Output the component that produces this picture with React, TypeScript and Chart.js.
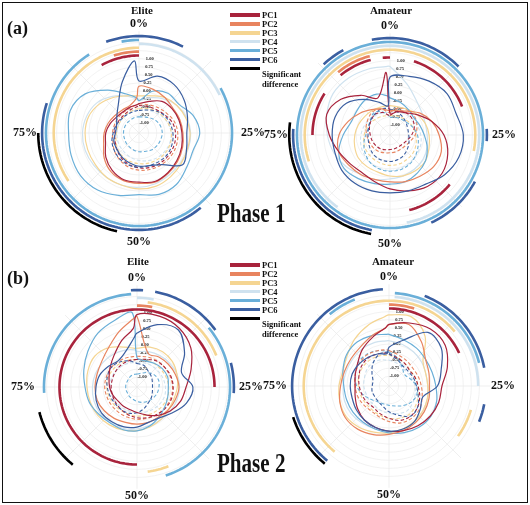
import React, { useEffect, useRef } from 'react';
import { Chart, registerables } from 'chart.js';

Chart.register(...registerables);

// ---------- shared axis data ----------
const PCT_STEP = 0.5; // one radar label per 0.5 % of the cycle
const N_LABELS = 200;
const PERCENT_LABELS = ['0%', '25%', '50%', '75%'];
const CURVE_PCTS = [0, 5, 10, 15, 20, 25, 30, 35, 40, 45, 50, 55, 60, 65, 70, 75, 80, 85, 90, 95, 99];
const TICK_VALUES = [-1, -0.75, -0.5, -0.25, 0, 0.25, 0.5, 0.75, 1];
const EXTRA_GRID = [1.25, 1.5];
const R_MIN = -1.3;
const R_MAX = 1.85;

const SERIES_NAMES = ['PC1', 'PC2', 'PC3', 'PC4', 'PC5', 'PC6'];
const SERIES_COLORS = ['#A8233C', '#E8845F', '#F5D592', '#CFE2EF', '#6AAFD8', '#3A5EA0'];
const SIG_NAME = 'Significant difference';
const SIG_COLOR = '#000000';
// radial level of each significance ring (PC1..PC6, then significant difference)
const ARC_LEVELS = [1.1, 1.22, 1.34, 1.46, 1.58, 1.7, 1.82];

// ---------- Phase 1 / Elite ----------
const P1E_SOLID_PC1 = [-0.39, -0.27, -0.09, -0.03, 0, 0.03, 0.09, 0.15, 0.22, 0.28, 0.22, 0.22, 0.12, -0.03, -0.21, -0.27, -0.36, -0.45, -0.48, -0.45, -0.42];
const P1E_SOLID_PC2 = [0.15, 0.12, 0.06, 0.0, 0.03, 0.06, 0.12, 0.18, 0.24, 0.3, 0.26, 0.25, 0.18, 0.03, -0.15, -0.22, -0.3, -0.38, -0.42, -0.4, -0.2];
const P1E_SOLID_PC3 = [-0.15, -0.09, 0.06, 0.15, 0.22, 0.28, 0.28, 0.31, 0.37, 0.43, 0.43, 0.4, 0.4, 0.37, 0.37, 0.37, 0.34, 0.22, 0.06, -0.09, -0.15];
const P1E_SOLID_PC4 = [-0.3, -0.15, 0.0, 0.15, 0.25, 0.3, 0.3, 0.28, 0.3, 0.35, 0.38, 0.4, 0.4, 0.42, 0.45, 0.45, 0.4, 0.3, 0.1, -0.1, -0.25];
const P1E_SOLID_PC5 = [-0.3, 0.06, 0.22, 0.22, 0.46, 0.58, 0.46, 0.52, 0.67, 0.7, 0.61, 0.73, 0.88, 0.94, 0.91, 0.88, 0.94, 0.76, 0.34, -0.03, -0.21];
const P1E_SOLID_PC6 = [0.31, 0.55, 0.55, 0.43, 0.28, 0.18, 0.25, 0.37, -0.09, -0.24, -0.27, -0.33, -0.39, -0.45, -0.48, -0.57, -0.57, -0.45, -0.21, 0.37, 0.94];
const P1E_DASH_PC1 = [-0.45, -0.44, -0.4, -0.33, -0.22, -0.17, -0.15, -0.15, -0.16, -0.18, -0.22, -0.28, -0.36, -0.45, -0.52, -0.55, -0.56, -0.57, -0.57, -0.53, -0.48];
const P1E_DASH_PC2 = [-0.4, -0.38, -0.32, -0.25, -0.15, -0.1, -0.08, -0.08, -0.1, -0.12, -0.15, -0.2, -0.28, -0.36, -0.45, -0.48, -0.5, -0.5, -0.5, -0.47, -0.42];
const P1E_DASH_PC3 = [-0.55, -0.5, -0.45, -0.4, -0.35, -0.3, -0.28, -0.28, -0.3, -0.32, -0.35, -0.38, -0.42, -0.48, -0.55, -0.6, -0.62, -0.62, -0.6, -0.58, -0.55];
const P1E_DASH_PC4 = [-0.6, -0.55, -0.5, -0.42, -0.35, -0.3, -0.3, -0.32, -0.35, -0.4, -0.45, -0.5, -0.55, -0.58, -0.6, -0.62, -0.62, -0.62, -0.62, -0.6, -0.6];
const P1E_DASH_PC5 = [-0.8, -0.78, -0.72, -0.65, -0.6, -0.58, -0.6, -0.62, -0.65, -0.7, -0.72, -0.75, -0.78, -0.8, -0.82, -0.82, -0.82, -0.82, -0.82, -0.8, -0.8];
const P1E_DASH_PC6 = [-0.6, -0.55, -0.45, -0.35, -0.3, -0.25, -0.22, -0.2, -0.22, -0.24, -0.24, -0.26, -0.3, -0.36, -0.42, -0.5, -0.55, -0.6, -0.62, -0.62, -0.6];
const P1E_ARC_PC1 = [[92, 100]];
const P1E_ARC_PC2 = [[95, 100]];
const P1E_ARC_PC3 = [[65.5, 100]];
const P1E_ARC_PC4 = [[0, 18]];
const P1E_ARC_PC5 = [[17, 91], [97, 100]];
const P1E_ARC_PC6 = [[94.5, 7.8], [39, 80]];
const P1E_ARC_SIG = [[53.5, 75]];

// ---------- Phase 1 / Amateur ----------
const P1A_SOLID_PC1 = [-0.63, -0.54, -0.45, -0.24, 0.06, 0.37, 0.58, 0.7, 0.67, 0.52, 0.37, 0.22, 0.15, 0.22, 0.37, 0.58, 0.76, 0.58, 0.22, -0.09, 0.64];
const P1A_SOLID_PC2 = [-0.54, -0.51, -0.39, -0.15, 0.06, 0.22, 0.37, 0.37, 0.28, 0.22, 0.15, 0.15, 0.22, 0.28, 0.37, 0.28, 0.06, -0.15, -0.33, -0.45, -0.54];
const P1A_SOLID_PC3 = [-0.39, -0.39, -0.33, -0.24, -0.15, -0.09, -0.03, 0.06, 0.06, 0.03, -0.03, -0.09, -0.09, -0.09, -0.15, -0.21, -0.27, -0.33, -0.36, -0.39, -0.39];
const P1A_SOLID_PC4 = [0.82, 0.37, 0.06, -0.09, -0.15, -0.15, -0.09, -0.03, 0, 0.03, 0.06, 0.15, 0.22, 0.37, 0.52, 0.64, 0.76, 0.88, 0.88, 0.85, 0.82];
const P1A_SOLID_PC5 = [-0.15, -0.24, -0.33, -0.39, -0.33, -0.24, -0.09, 0.06, 0.15, 0.22, 0.22, 0.28, 0.37, 0.46, 0.37, 0.15, -0.03, -0.03, 0.03, 0.03, -0.09];
const P1A_SOLID_PC6 = [0.49, 0.61, 0.76, 0.88, 0.85, 0.97, 0.94, 0.79, 0.58, 0.52, 0.49, 0.52, 0.55, 0.55, 0.49, 0.49, 0.49, 0.37, 0.06, -0.24, -0.39];
const P1A_DASH_PC1 = [-0.69, -0.51, -0.45, -0.45, -0.51, -0.63, -0.75, -0.82, -0.85, -0.85, -0.85, -0.82, -0.78, -0.75, -0.72, -0.69, -0.63, -0.57, -0.51, -0.57, -0.69];
const P1A_DASH_PC2 = [-0.6, -0.42, -0.35, -0.35, -0.42, -0.52, -0.65, -0.72, -0.75, -0.75, -0.75, -0.72, -0.68, -0.65, -0.62, -0.58, -0.52, -0.46, -0.4, -0.46, -0.6];
const P1A_DASH_PC3 = [-0.7, -0.68, -0.65, -0.6, -0.55, -0.5, -0.45, -0.4, -0.38, -0.36, -0.36, -0.38, -0.4, -0.42, -0.45, -0.5, -0.55, -0.6, -0.65, -0.68, -0.7];
const P1A_DASH_PC4 = [-0.6, -0.55, -0.5, -0.45, -0.4, -0.35, -0.3, -0.28, -0.25, -0.22, -0.2, -0.22, -0.25, -0.3, -0.35, -0.4, -0.45, -0.5, -0.55, -0.58, -0.6];
const P1A_DASH_PC5 = [-0.75, -0.72, -0.7, -0.65, -0.55, -0.45, -0.38, -0.3, -0.22, -0.18, -0.18, -0.2, -0.25, -0.35, -0.45, -0.55, -0.6, -0.55, -0.45, -0.55, -0.7];
const P1A_DASH_PC6 = [-0.5, -0.55, -0.62, -0.68, -0.72, -0.72, -0.68, -0.62, -0.55, -0.5, -0.48, -0.48, -0.5, -0.55, -0.6, -0.62, -0.6, -0.55, -0.5, -0.45, -0.48];
const P1A_ARC_PC1 = [[5, 19], [36, 46], [75, 84], [89, 96], [98.5, 100]];
const P1A_ARC_PC2 = [[89, 96]];
const P1A_ARC_PC3 = [[70, 28]];
const P1A_ARC_PC4 = [[0, 47], [60, 100]];
const P1A_ARC_PC5 = [[0, 100]];
const P1A_ARC_PC6 = [[97, 12.7], [24, 26], [33, 43], [53, 76], [88, 92]];
const P1A_ARC_SIG = [[53, 77]];

// ---------- Phase 2 / Elite ----------
const P2E_SOLID_PC1 = [0.94, 1.0, 0.94, 0.76, 0.46, 0.22, 0.12, -0.03, -0.21, -0.39, -0.51, -0.57, -0.57, -0.57, -0.51, -0.45, -0.39, -0.27, -0.09, 0.22, 0.52];
const P2E_SOLID_PC2 = [0.88, -0.2, -0.15, -0.1, -0.05, 0.0, -0.05, -0.1, -0.15, -0.15, -0.15, -0.15, -0.1, -0.05, 0.0, 0.0, 0.0, 0.05, 0.2, 0.5, 0.8];
const P2E_SOLID_PC3 = [-0.1, 0.0, 0.05, 0.05, 0.0, -0.05, -0.1, -0.1, -0.05, 0.0, 0.05, 0.1, 0.15, 0.2, 0.22, 0.25, 0.3, 0.32, 0.2, 0.0, -0.1];
const P2E_SOLID_PC4 = [-0.2, -0.15, -0.1, -0.05, 0, 0.02, 0.0, -0.03, -0.05, -0.05, 0.0, 0.05, 0.08, 0.1, 0.1, 0.08, 0.05, 0.0, -0.05, -0.1, -0.15];
const P2E_SOLID_PC5 = [-0.39, -0.45, -0.39, -0.33, -0.3, -0.33, -0.3, -0.24, -0.15, -0.03, 0.06, 0.09, 0.09, 0.15, 0.25, 0.31, 0.43, 0.58, 0.76, 0.88, 1.0];
const P2E_SOLID_PC6 = [0.37, 0.73, 0.88, 0.52, 0.15, 0.43, 0.31, 0.06, -0.12, -0.15, -0.06, 0, 0.03, 0.06, 0.03, -0.03, -0.09, -0.21, -0.3, -0.15, 0.22];
const P2E_DASH_PC1 = [-0.45, -0.4, -0.3, -0.25, -0.2, -0.18, -0.17, -0.2, -0.25, -0.3, -0.35, -0.4, -0.45, -0.48, -0.5, -0.5, -0.5, -0.48, -0.46, -0.45, -0.45];
const P2E_DASH_PC2 = [-0.35, -0.32, -0.28, -0.25, -0.22, -0.2, -0.2, -0.22, -0.25, -0.28, -0.3, -0.32, -0.33, -0.33, -0.32, -0.3, -0.3, -0.3, -0.32, -0.34, -0.35];
const P2E_DASH_PC3 = [-0.45, -0.42, -0.4, -0.38, -0.35, -0.32, -0.3, -0.32, -0.35, -0.38, -0.4, -0.42, -0.42, -0.4, -0.38, -0.36, -0.36, -0.38, -0.4, -0.42, -0.45];
const P2E_DASH_PC4 = [-0.55, -0.52, -0.5, -0.48, -0.45, -0.42, -0.4, -0.42, -0.45, -0.48, -0.5, -0.52, -0.52, -0.5, -0.48, -0.46, -0.46, -0.48, -0.5, -0.52, -0.55];
const P2E_DASH_PC5 = [-0.9, -0.85, -0.75, -0.65, -0.6, -0.62, -0.65, -0.7, -0.75, -0.8, -0.85, -0.9, -0.92, -0.95, -0.95, -0.95, -0.95, -0.95, -0.92, -0.9, -0.9];
const P2E_DASH_PC6 = [-0.57, -0.6, -0.7, -0.75, -0.8, -0.82, -0.8, -0.75, -0.7, -0.6, -0.5, -0.45, -0.45, -0.45, -0.42, -0.38, -0.33, -0.3, -0.35, -0.45, -0.55];
const P2E_ARC_PC1 = [[50, 25]];
const P2E_ARC_PC2 = [[0, 3]];
const P2E_ARC_PC3 = [[2, 19], [44, 48]];
const P2E_ARC_PC4 = [[0, 3]];
const P2E_ARC_PC5 = [[74, 99], [14, 45]];
const P2E_ARC_PC6 = [[99, 1], [3, 15], [21, 26]];
const P2E_ARC_SIG = [[61, 71]];

// ---------- Phase 2 / Amateur ----------
const P2A_SOLID_PC1 = [0.61, 0.75, 0.88, 0.85, 0.6, 0.34, 0.32, 0.28, 0.22, 0.15, 0.1, 0.05, 0.0, -0.1, -0.2, -0.25, -0.2, -0.1, 0.1, 0.3, 0.5];
const P2A_SOLID_PC2 = [0.6, 0.7, 0.4, 0.1, 0.0, -0.05, 0.0, 0.05, 0.1, 0.15, 0.2, 0.28, 0.35, 0.37, 0.3, 0.2, 0.15, 0.15, 0.2, 0.35, 0.5];
const P2A_SOLID_PC3 = [0.9, 0.95, 0.6, 0.0, -0.1, -0.1, -0.05, 0.0, 0.05, 0.1, 0.15, 0.2, 0.28, 0.33, 0.3, 0.25, 0.2, 0.3, 0.5, 0.7, 0.85];
const P2A_SOLID_PC4 = [0.1, 0.05, 0.0, -0.05, -0.1, -0.1, -0.05, 0.0, 0.05, 0.1, 0.1, 0.1, 0.12, 0.15, 0.15, 0.12, 0.1, 0.1, 0.12, 0.12, 0.1];
const P2A_SOLID_PC5 = [0.3, 0.2, 0.15, 0.1, 0.1, 0.15, 0.25, 0.3, 0.28, 0.22, 0.15, 0.1, 0.08, 0.08, 0.08, 0.1, 0.2, 0.33, 0.38, 0.35, 0.3];
const P2A_SOLID_PC6 = [-0.1, 0.2, 0.75, 0.7, 0.4, 0.2, -0.2, -0.1, 0.05, 0.1, 0.1, 0.05, 0.0, -0.05, -0.1, -0.1, -0.1, -0.15, -0.2, -0.25, -0.3];
const P2A_DASH_PC1 = [-0.3, -0.4, -0.45, -0.5, -0.45, -0.4, -0.3, -0.2, -0.15, -0.18, -0.3, -0.4, -0.48, -0.45, -0.42, -0.38, -0.32, -0.25, -0.22, -0.25, -0.28];
const P2A_DASH_PC2 = [-0.2, -0.3, -0.35, -0.38, -0.35, -0.3, -0.22, -0.12, -0.08, -0.1, -0.2, -0.3, -0.35, -0.32, -0.28, -0.25, -0.2, -0.15, -0.12, -0.15, -0.18];
const P2A_DASH_PC3 = [-0.35, -0.4, -0.45, -0.48, -0.45, -0.4, -0.35, -0.28, -0.22, -0.25, -0.3, -0.35, -0.4, -0.4, -0.38, -0.35, -0.32, -0.3, -0.3, -0.32, -0.35];
const P2A_DASH_PC4 = [-0.5, -0.55, -0.6, -0.6, -0.55, -0.5, -0.45, -0.4, -0.35, -0.4, -0.45, -0.5, -0.55, -0.55, -0.55, -0.52, -0.5, -0.45, -0.42, -0.45, -0.5];
const P2A_DASH_PC5 = [-0.25, -0.4, -0.6, -0.7, -0.6, -0.45, -0.4, -0.45, -0.55, -0.65, -0.7, -0.72, -0.7, -0.6, -0.45, -0.3, -0.2, -0.1, -0.1, -0.15, -0.22];
const P2A_DASH_PC6 = [-0.3, -0.45, -0.55, -0.55, -0.5, -0.45, -0.35, -0.2, -0.15, -0.35, -0.5, -0.65, -0.72, -0.75, -0.75, -0.78, -0.78, -0.65, -0.45, -0.28, -0.25];
const P2A_ARC_PC1 = [[0, 18]];
const P2A_ARC_PC2 = [[0, 5]];
const P2A_ARC_PC3 = [[61, 14], [29.5, 35]];
const P2A_ARC_PC4 = [[1, 25]];
const P2A_ARC_PC5 = [[1, 21], [89, 94]];
const P2A_ARC_PC6 = [[61, 99], [6, 22], [28, 31]];
const P2A_ARC_SIG = [[61, 70]];

// ---------- helpers building the library's data ----------
const radarLabels = Array.from({ length: N_LABELS }, (_, i) => {
  const pct = i * PCT_STEP;
  return pct % 25 === 0 ? PERCENT_LABELS[pct / 25] : '';
});

function curveData(vals: number[]) {
  const arr: (number | null)[] = new Array(N_LABELS).fill(null);
  CURVE_PCTS.forEach((p, k) => {
    arr[Math.round(p / PCT_STEP)] = vals[k];
  });
  return arr;
}

function inRange(p: number, a: number, b: number) {
  if (a <= b) return (p >= a && p <= b) || (b >= 100 && p <= b - 100);
  return p >= a || p <= b;
}

function arcData(ranges: number[][], level: number) {
  return Array.from({ length: N_LABELS }, (_, i) => {
    const p = i * PCT_STEP;
    return ranges.some(([a, b]) => inRange(p, a, b)) ? level : null;
  });
}

type PanelSpec = {
  cx: number;
  cy: number;
  solid: number[][];
  dashed: number[][];
  arcs: number[][][]; // PC1..PC6, SIG
};

const PANELS: PanelSpec[] = [
  {
    cx: 139, cy: 133,
    solid: [P1E_SOLID_PC1, P1E_SOLID_PC2, P1E_SOLID_PC3, P1E_SOLID_PC4, P1E_SOLID_PC5, P1E_SOLID_PC6],
    dashed: [P1E_DASH_PC1, P1E_DASH_PC2, P1E_DASH_PC3, P1E_DASH_PC4, P1E_DASH_PC5, P1E_DASH_PC6],
    arcs: [P1E_ARC_PC1, P1E_ARC_PC2, P1E_ARC_PC3, P1E_ARC_PC4, P1E_ARC_PC5, P1E_ARC_PC6, P1E_ARC_SIG],
  },
  {
    cx: 390, cy: 135,
    solid: [P1A_SOLID_PC1, P1A_SOLID_PC2, P1A_SOLID_PC3, P1A_SOLID_PC4, P1A_SOLID_PC5, P1A_SOLID_PC6],
    dashed: [P1A_DASH_PC1, P1A_DASH_PC2, P1A_DASH_PC3, P1A_DASH_PC4, P1A_DASH_PC5, P1A_DASH_PC6],
    arcs: [P1A_ARC_PC1, P1A_ARC_PC2, P1A_ARC_PC3, P1A_ARC_PC4, P1A_ARC_PC5, P1A_ARC_PC6, P1A_ARC_SIG],
  },
  {
    cx: 137, cy: 387,
    solid: [P2E_SOLID_PC1, P2E_SOLID_PC2, P2E_SOLID_PC3, P2E_SOLID_PC4, P2E_SOLID_PC5, P2E_SOLID_PC6],
    dashed: [P2E_DASH_PC1, P2E_DASH_PC2, P2E_DASH_PC3, P2E_DASH_PC4, P2E_DASH_PC5, P2E_DASH_PC6],
    arcs: [P2E_ARC_PC1, P2E_ARC_PC2, P2E_ARC_PC3, P2E_ARC_PC4, P2E_ARC_PC5, P2E_ARC_PC6, P2E_ARC_SIG],
  },
  {
    cx: 389, cy: 386,
    solid: [P2A_SOLID_PC1, P2A_SOLID_PC2, P2A_SOLID_PC3, P2A_SOLID_PC4, P2A_SOLID_PC5, P2A_SOLID_PC6],
    dashed: [P2A_DASH_PC1, P2A_DASH_PC2, P2A_DASH_PC3, P2A_DASH_PC4, P2A_DASH_PC5, P2A_DASH_PC6],
    arcs: [P2A_ARC_PC1, P2A_ARC_PC2, P2A_ARC_PC3, P2A_ARC_PC4, P2A_ARC_PC5, P2A_ARC_PC6, P2A_ARC_SIG],
  },
];

const CANVAS = 252;
const SERIF = "'Liberation Serif', 'Times New Roman', serif";

function buildDatasets(spec: PanelSpec) {
  const ds: any[] = [];
  const arcColors = [...SERIES_COLORS, SIG_COLOR];
  const arcNames = [...SERIES_NAMES, SIG_NAME];
  spec.arcs.forEach((ranges, k) => {
    ds.push({
      label: arcNames[k] + ' ring',
      data: arcData(ranges, ARC_LEVELS[k]),
      borderColor: arcColors[k],
      borderWidth: 2.6,
      pointRadius: 0,
      fill: false,
      tension: 0,
      spanGaps: false,
      borderCapStyle: 'butt',
    });
  });
  // dark series drawn on top: Chart.js draws the first dataset last
  const order = [5, 0, 1, 4, 2, 3];
  order.forEach((k) => {
    ds.push({
      label: SERIES_NAMES[k],
      data: curveData(spec.solid[k]),
      borderColor: SERIES_COLORS[k],
      borderWidth: 1.2,
      pointRadius: 0,
      fill: false,
      tension: 0.35,
      spanGaps: true,
    });
  });
  order.forEach((k) => {
    ds.push({
      label: SERIES_NAMES[k] + ' (dashed)',
      data: curveData(spec.dashed[k]),
      borderColor: SERIES_COLORS[k],
      borderWidth: 1.1,
      borderDash: [3.5, 2.2],
      pointRadius: 0,
      fill: false,
      tension: 0.35,
      spanGaps: true,
    });
  });
  return ds;
}

function tickLabel(v: number) {
  if (v > 1.001) return '';
  const pad = Math.round(9 + (v + 1) * 5);
  return ' '.repeat(pad) + v.toFixed(2);
}

function Panel({ spec }: { spec: PanelSpec }) {
  const ref = useRef<HTMLCanvasElement>(null);
  useEffect(() => {
    const chart = new Chart(ref.current as HTMLCanvasElement, {
      type: 'radar',
      data: { labels: radarLabels, datasets: buildDatasets(spec) },
      options: {
        responsive: false,
        animation: false,
        events: [],
        layout: { padding: 0 },
        plugins: { legend: { display: false }, tooltip: { enabled: false } },
        scales: {
          r: {
            min: R_MIN,
            max: R_MAX,
            beginAtZero: false,
            afterBuildTicks: (scale: any) => {
              scale.ticks = [...TICK_VALUES, ...EXTRA_GRID].map((v) => ({ value: v }));
            },
            ticks: {
              display: true,
              showLabelBackdrop: false,
              backdropPadding: 0,
              color: '#222',
              font: { family: SERIF, size: 4.5, weight: 'bold' },
              callback: (v: any) => tickLabel(Number(v)),
            },
            grid: { circular: true, color: '#ededed', lineWidth: 0.7 },
            angleLines: {
              display: true,
              color: (ctx: any) => (ctx.index % 25 === 0 ? '#e8e8e8' : 'rgba(0,0,0,0)'),
              lineWidth: (ctx: any) => (ctx.index % 25 === 0 ? 0.7 : 0),
            },
            pointLabels: {
              display: true,
              color: '#111',
              padding: -2,
              font: { family: SERIF, size: 12, weight: 'bold' },
            },
          },
        },
      } as any,
    });
    return () => chart.destroy();
  }, [spec]);
  return (
    <canvas
      ref={ref}
      width={CANVAS}
      height={CANVAS}
      style={{
        position: 'absolute',
        left: spec.cx - CANVAS / 2,
        top: spec.cy - CANVAS / 2,
        width: CANVAS,
        height: CANVAS,
      }}
    />
  );
}

const textBase: React.CSSProperties = {
  position: 'absolute',
  fontFamily: SERIF,
  fontWeight: 'bold',
  color: '#111',
  whiteSpace: 'nowrap',
  lineHeight: 1,
};

function Legend({ top }: { top: number }) {
  const rows = [...SERIES_NAMES, SIG_NAME];
  const colors = [...SERIES_COLORS, SIG_COLOR];
  return (
    <>
      {rows.map((name, i) => {
        const y = top + i * 8.9;
        return (
          <React.Fragment key={name}>
            <div
              style={{
                position: 'absolute',
                left: 230,
                top: y - 1.8,
                width: 30,
                height: 3.6,
                background: colors[i],
              }}
            />
            {i < 6 ? (
              <div style={{ ...textBase, left: 262, top: y - 4, fontSize: 8.5 }}>{name}</div>
            ) : (
              <div style={{ ...textBase, left: 262, top: y + 1, fontSize: 8.5, lineHeight: '10px' }}>
                Significant
                <br />
                difference
              </div>
            )}
          </React.Fragment>
        );
      })}
    </>
  );
}

export default function App() {
  return (
    <div
      style={{
        position: 'fixed',
        left: 0,
        top: 0,
        width: 530,
        height: 505,
        background: '#fff',
        overflow: 'hidden',
      }}
    >
      <div
        style={{
          position: 'absolute',
          left: 2,
          top: 2,
          width: 526,
          height: 501,
          boxSizing: 'border-box',
          border: '1.5px solid #111',
        }}
      />
      {PANELS.map((p, i) => (
        <Panel key={i} spec={p} />
      ))}
      <div style={{ ...textBase, left: 142, top: 5, fontSize: 11, transform: 'translateX(-50%)' }}>Elite</div>
      <div style={{ ...textBase, left: 391, top: 5, fontSize: 11, transform: 'translateX(-50%)' }}>Amateur</div>
      <div style={{ ...textBase, left: 138, top: 256, fontSize: 11, transform: 'translateX(-50%)' }}>Elite</div>
      <div style={{ ...textBase, left: 393, top: 256, fontSize: 11, transform: 'translateX(-50%)' }}>Amateur</div>
      <div style={{ ...textBase, left: 7, top: 19, fontSize: 18 }}>(a)</div>
      <div style={{ ...textBase, left: 7, top: 269, fontSize: 18 }}>(b)</div>
      <div
        style={{ ...textBase, left: 217, top: 200, fontSize: 27, transform: 'scaleX(0.78)', transformOrigin: 'left top' }}
      >
        Phase 1
      </div>
      <div
        style={{ ...textBase, left: 217, top: 450, fontSize: 27, transform: 'scaleX(0.78)', transformOrigin: 'left top' }}
      >
        Phase 2
      </div>
      <Legend top={15} />
      <Legend top={265} />
    </div>
  );
}
